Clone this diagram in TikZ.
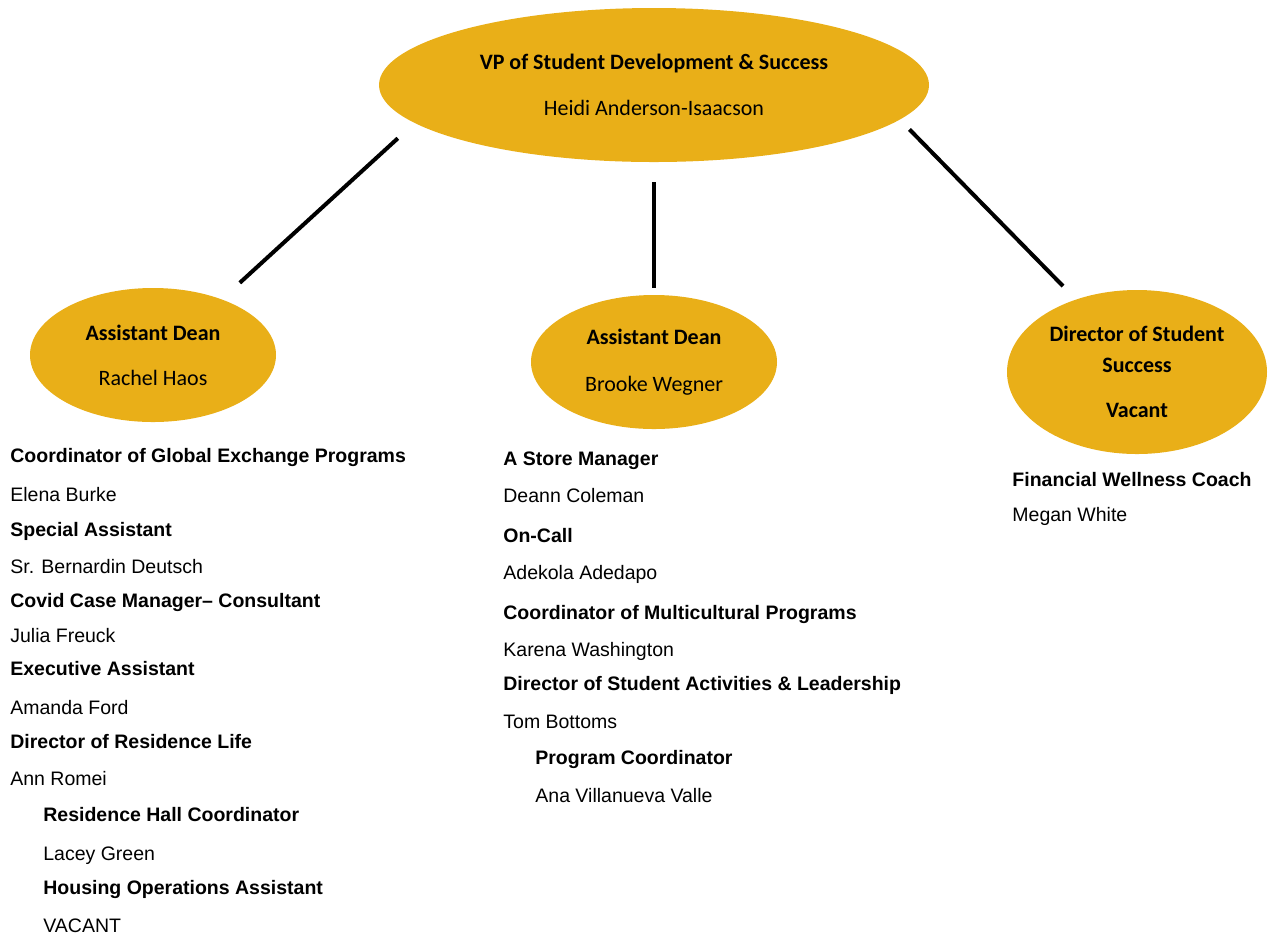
\documentclass[tikz,border=0pt]{standalone}
\usepackage{fontspec}
\usetikzlibrary{shapes.geometric}
\setmainfont{Liberation Sans}
\newfontfamily\calibri{Carlito}
\definecolor{gold}{RGB}{233,175,24}

\begin{document}
\begin{tikzpicture}[
  x=0.5pt, y=-0.5pt,
  oval/.style={ellipse, fill=gold, inner sep=0pt, outer sep=0pt, align=center,
    font=\calibri\fontsize{11}{15.5}\selectfont},
  link/.style={line width=2pt},
  role/.style={anchor=west, inner sep=0pt, text height=.72em, text depth=0pt,
    font=\fontsize{9.75}{12}\selectfont\bfseries},
  person/.style={anchor=west, inner sep=0pt, text height=.72em, text depth=0pt,
    font=\fontsize{9.75}{12}\selectfont}
]
\useasboundingbox (0,0) rectangle (1268,934);

\node[oval, minimum width=275pt, minimum height=77pt] (vp) at (654,85)
  {\textbf{VP of Student Development \& Success}\\[7.5pt] Heidi Anderson-Isaacson};
\node[oval, minimum width=123pt, minimum height=67pt] (dean1) at (153,355)
  {\textbf{Assistant Dean}\\[7pt] Rachel Haos};
\node[oval, minimum width=123pt, minimum height=67pt] (dean2) at (654,362)
  {\textbf{Assistant Dean}\\[8pt] Brooke Wegner};
\node[oval, minimum width=130pt, minimum height=82pt] (dss) at (1137,372)
  {\textbf{Director of Student}\\ \textbf{Success}\\[7pt] \textbf{Vacant}};

\draw[link, shorten <=11.4pt, shorten >=12.3pt] (vp.189.7) -- (dean1.39.2);
\draw[link, shorten <=10pt, shorten >=3.5pt] (vp.south) -- (dean2.north);
\draw[link, shorten <=6.9pt, shorten >=9.4pt] (vp.352.4) -- (dss.130.2);

% left column
\node[role] (r1) at (10,455) {Coordinator of Global Exchange Programs};
\node[person] (p1) at (10,494) {Elena Burke};
\node[role] (r2) at (10,529) {Special Assistant};
\node[person] (p2) at (10,566) {Sr. Bernardin Deutsch};
\node[role] (r3) at (10,600) {Covid Case Manager-- Consultant};
\node[person] (p3) at (10,635) {Julia Freuck};
\node[role] (r4) at (10,668) {Executive Assistant};
\node[person] (p4) at (10,707) {Amanda Ford};
\node[role] (r5) at (10,741) {Director of Residence Life};
\node[person] (p5) at (10,778) {Ann Romei};
\node[role] (r6) at (43,814) {Residence Hall Coordinator};
\node[person] (p6) at (43,853) {Lacey Green};
\node[role] (r7) at (43,887) {Housing Operations Assistant};
\node[person] (p7) at (43,925) {VACANT};

% middle column
\node[role] (m1) at (503,458) {A Store Manager};
\node[person] (n1) at (503,495) {Deann Coleman};
\node[role] (m2) at (503,535) {On-Call};
\node[person] (n2) at (503,572) {Adekola Adedapo};
\node[role] (m3) at (503,612) {Coordinator of Multicultural Programs};
\node[person] (n3) at (503,649) {Karena Washington};
\node[role] (m4) at (503,683) {Director of Student Activities \& Leadership};
\node[person] (n4) at (503,721) {Tom Bottoms};
\node[role] (m5) at (535,757) {Program Coordinator};
\node[person] (n5) at (535,795) {Ana Villanueva Valle};

% right column
\node[role] (s1) at (1012,479) {Financial Wellness Coach};
\node[person] (t1) at (1012,514) {Megan White};

\end{tikzpicture}
\end{document}
